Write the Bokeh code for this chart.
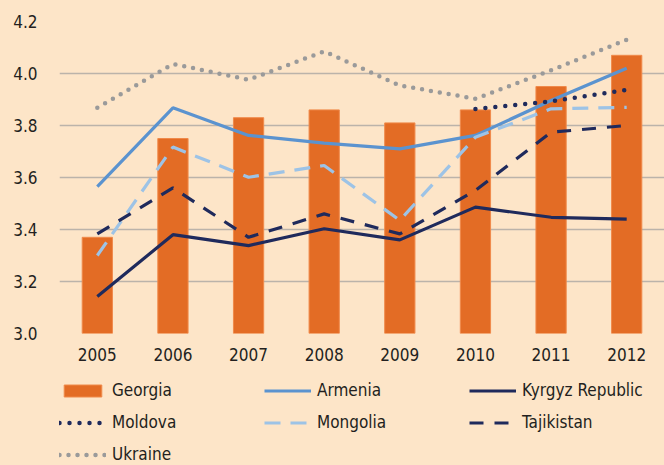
from bokeh.plotting import figure
from bokeh.layouts import column
from bokeh.models import FactorRange, Legend, LegendItem, FixedTicker, PrintfTickFormatter, Range1d
from bokeh.embed import file_html
from bokeh.resources import INLINE

years = ["2005", "2006", "2007", "2008", "2009", "2010", "2011", "2012"]
georgia = [3.37, 3.75, 3.83, 3.86, 3.81, 3.86, 3.95, 4.07]
armenia = [3.565, 3.868, 3.762, 3.732, 3.71, 3.762, 3.896, 4.02]
kyrgyz = [3.142, 3.38, 3.338, 3.403, 3.36, 3.486, 3.447, 3.44]
moldova_years = ["2010", "2011", "2012"]
moldova = [3.863, 3.893, 3.937]
mongolia = [3.30, 3.717, 3.601, 3.646, 3.435, 3.755, 3.864, 3.87]
tajikistan = [3.383, 3.56, 3.37, 3.46, 3.383, 3.55, 3.774, 3.80]
ukraine = [3.868, 4.037, 3.976, 4.085, 3.954, 3.903, 4.012, 4.13]
y_ticks = [3.0, 3.2, 3.4, 3.6, 3.8, 4.0, 4.2]

FONT = "DejaVu Sans Condensed"
BG = "#FDE5C8"
TXT = "#231F20"

styles = {
    "Armenia": dict(line_color="#5B93CF", line_width=3.2),
    "Kyrgyz Republic": dict(line_color="#1F2A5C", line_width=3.2),
    "Moldova": dict(line_color="#1F2A5C", line_width=4.5, line_dash="0 10", line_cap="round"),
    "Mongolia": dict(line_color="#9DC3E6", line_width=3.2, line_dash="16 10"),
    "Tajikistan": dict(line_color="#1F2A5C", line_width=3.2, line_dash="14 11"),
    "Ukraine": dict(line_color="#9A9A9A", line_width=4.5, line_dash="0 9", line_cap="round"),
}
bar_style = dict(color="#E36C25", line_color="#F08A4B", line_width=1)

p = figure(x_range=FactorRange(factors=years), y_range=(3.0, 4.2),
           width=664, height=368, output_backend="svg", toolbar_location=None,
           min_border_left=59, min_border_right=0, min_border_top=21, min_border_bottom=35,
           background_fill_color=BG, border_fill_color=BG, outline_line_color=None,
           styles={"background-color": BG})

p.vbar(x=years, top=georgia, bottom=3.0, width=0.4, **bar_style)
p.line(years, armenia, **styles["Armenia"])
p.line(years, kyrgyz, **styles["Kyrgyz Republic"])
p.line(moldova_years, moldova, **styles["Moldova"])
p.line(years, mongolia, **styles["Mongolia"])
p.line(years, tajikistan, **styles["Tajikistan"])
p.line(years, ukraine, **styles["Ukraine"])

p.xgrid.grid_line_color = None
p.ygrid.grid_line_color = "#BBB3AA"
p.ygrid.grid_line_width = 1.5
p.yaxis.ticker = FixedTicker(ticks=y_ticks)
p.yaxis.formatter = PrintfTickFormatter(format="%.1f")
for ax in (p.xaxis[0], p.yaxis[0]):
    ax.axis_line_color = None
    ax.major_tick_line_color = None
    ax.minor_tick_line_color = None
    ax.major_tick_out = 0
    ax.major_tick_in = 0
    ax.major_label_text_font = FONT
    ax.major_label_text_font_size = "17px"
    ax.major_label_text_color = TXT
p.xaxis.major_label_standoff = 14
p.yaxis.major_label_standoff = 22

# legend panel
q = figure(width=664, height=97, output_backend="svg", toolbar_location=None,
           x_range=Range1d(0, 1), y_range=Range1d(0, 1),
           x_axis_type=None, y_axis_type=None,
           min_border_left=0, min_border_right=0, min_border_top=0, min_border_bottom=0,
           background_fill_color=BG, border_fill_color=BG, outline_line_color=None,
           styles={"background-color": BG})
q.grid.visible = False
nan = float("nan")
lg_geo = q.vbar(x=[0.5], top=[nan], bottom=[nan], width=0.4, **bar_style)
lg = {name: q.line(x=[0.5], y=[nan], **st) for name, st in styles.items()}

legend = Legend(items=[
    LegendItem(label="Georgia", renderers=[lg_geo]),
    LegendItem(label="Armenia", renderers=[lg["Armenia"]]),
    LegendItem(label="Kyrgyz Republic", renderers=[lg["Kyrgyz Republic"]]),
    LegendItem(label="Moldova", renderers=[lg["Moldova"]]),
    LegendItem(label="Mongolia", renderers=[lg["Mongolia"]]),
    LegendItem(label="Tajikistan", renderers=[lg["Tajikistan"]]),
    LegendItem(label="Ukraine", renderers=[lg["Ukraine"]]),
], orientation="horizontal", ncols=3)
legend.label_text_font = FONT
legend.label_text_font_size = "17px"
legend.label_text_color = TXT
legend.glyph_width = 47
legend.glyph_height = 15
legend.label_standoff = 6
legend.label_width = 140
legend.label_height = 20
legend.spacing = 12
legend.padding = 0
legend.margin = 0
legend.background_fill_alpha = 0
legend.border_line_color = None
legend.location = (0, 1)
q.add_layout(legend)

layout = column(p, q, spacing=0, styles={"background-color": BG})
open("out.html", "w").write(file_html(layout, INLINE))
